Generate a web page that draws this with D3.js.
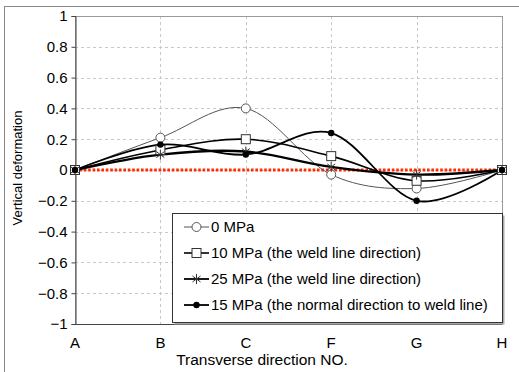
<!DOCTYPE html>
<html><head><meta charset="utf-8">
<script src="https://cdn.jsdelivr.net/npm/d3@7"></script>
<style>body{margin:0;background:#fff}svg{display:block}text{font-family:"Liberation Sans",Arial,sans-serif;fill:#000}</style>
</head><body>
<script>
const categories = ["A","B","C","F","G","H"];
const s0  = [0, 0.21, 0.40, -0.03, -0.12, 0];
const s10 = [0, 0.13, 0.20, 0.09, -0.07, 0];
const s25 = [0, 0.10, 0.12, 0.02, -0.03, 0];
const s15 = [0, 0.165, 0.10, 0.24, -0.20, 0];
const seriesNames = ["0 MPa","10 MPa (the weld line direction)","25 MPa (the weld line direction)","15 MPa (the normal direction to weld line)"];
const yTicks = [-1,-0.8,-0.6,-0.4,-0.2,0,0.2,0.4,0.6,0.8,1];
const refLine = [0,0,0,0,0,0];

const W=519,H=372, L=75,R=502,T=16,B=324;
const svg=d3.select("body").append("svg").attr("width",W).attr("height",H);
svg.append("rect").attr("x",4.5).attr("y",6.5).attr("width",520).attr("height",380).attr("fill","none").attr("stroke","#888");
const x=d3.scalePoint().domain(categories).range([L,R]);
const y=d3.scaleLinear().domain([-1,1]).range([B,T]);

// grid
const g=svg.append("g");
g.selectAll(".hg").data(yTicks).join("line").attr("x1",L).attr("x2",R)
 .attr("y1",d=>Math.round(y(d))+0.5).attr("y2",d=>Math.round(y(d))+0.5)
 .attr("stroke","#c8c8c8").attr("stroke-dasharray","3,3");
g.selectAll(".vg").data(categories).join("line").attr("y1",T).attr("y2",B)
 .attr("x1",d=>Math.round(x(d))+0.5).attr("x2",d=>Math.round(x(d))+0.5)
 .attr("stroke","#c8c8c8").attr("stroke-dasharray","3,3");
// plot border
svg.append("rect").attr("x",L+0.5).attr("y",T+0.5).attr("width",R-L).attr("height",B-T).attr("fill","none").attr("stroke","#9a9a9a");
// y axis
const ya=svg.append("g").attr("transform",`translate(${L+0.5},0)`).call(d3.axisLeft(y).tickValues(yTicks).tickSize(4).tickFormat(d=>d===0?"0":String(d).replace("-","\u2212")));
ya.select(".domain").attr("stroke","#444");
ya.selectAll(".tick line").attr("stroke","#444");
ya.selectAll("text").attr("font-size",15).attr("x",-8).style("font-family","Liberation Sans, Arial, sans-serif");
// bottom axis line
svg.append("line").attr("x1",L).attr("x2",R).attr("y1",B+0.5).attr("y2",B+0.5).attr("stroke","#444");
// x labels
svg.selectAll(".xl").data(categories).join("text").attr("x",d=>x(d)).attr("y",348).attr("text-anchor","middle").attr("font-size",15).text(d=>d);
svg.append("text").attr("x",262).attr("y",365).attr("text-anchor","middle").attr("font-size",15.5).text("Transverse direction NO.");
svg.append("text").attr("transform","translate(22,168) rotate(-90)").attr("text-anchor","middle").attr("font-size",13).text("Vertical deformation");

// reference red dotted line
const line=d3.line().x((d,i)=>x(categories[i])).y(d=>y(d));
svg.append("path").attr("d",line(refLine)).attr("fill","none").attr("stroke","#ff2a00").attr("stroke-width",3.2).attr("stroke-dasharray","2.6,1.8");

const smooth=d3.line().x((d,i)=>x(categories[i])).y(d=>y(d)).curve(d3.curveCardinal.tension(0));
const series=[
 {v:s0, w:1, c:"#555", m:"circle"},
 {v:s10,w:1.6,c:"#000", m:"square"},
 {v:s25,w:2.4,c:"#000", m:"star"},
 {v:s15,w:1.8,c:"#000", m:"dot"}
];
function marker(sel,m,c){
  if(m==="circle") sel.append("circle").attr("r",4.5).attr("fill","#fff").attr("stroke",c).attr("stroke-width",1);
  else if(m==="square") sel.append("rect").attr("x",-4.5).attr("y",-4.5).attr("width",9).attr("height",9).attr("fill","#fff").attr("stroke","#333").attr("stroke-width",1);
  else if(m==="star"){
    sel.append("path").attr("d","M-4,-3L4,3M-4,3L4,-3M0,-5L0,5").attr("stroke","#333").attr("stroke-width",1);
  } else sel.append("circle").attr("r",3.2).attr("fill","#000");
}
series.forEach(s=>{
  svg.append("path").attr("d",smooth(s.v)).attr("fill","none").attr("stroke",s.c).attr("stroke-width",s.w);
});
series.forEach(s=>{
  s.v.forEach((d,i)=>{
    const gm=svg.append("g").attr("transform",`translate(${x(categories[i])},${y(d)})`);
    marker(gm,s.m,s.c);
  });
});

// legend
const lx=172,ly=213,lw=330,lh=109;
svg.append("rect").attr("x",lx+2.5).attr("y",ly+2.5).attr("width",lw).attr("height",lh).attr("fill","#aaa");
svg.append("rect").attr("x",lx+0.5).attr("y",ly+0.5).attr("width",lw).attr("height",lh).attr("fill","#fff").attr("stroke","#333");
const rows=[227,253,279,305];
series.forEach((s,i)=>{
  const yy=rows[i];
  svg.append("line").attr("x1",184).attr("x2",209).attr("y1",yy).attr("y2",yy).attr("stroke",s.c).attr("stroke-width",Math.min(s.w,1.8));
  const gm=svg.append("g").attr("transform",`translate(196.5,${yy})`);
  marker(gm,s.m,s.c);
  svg.append("text").attr("x",211).attr("y",yy+5).attr("font-size",15).text(seriesNames[i]);
});
</script>
</body></html>
